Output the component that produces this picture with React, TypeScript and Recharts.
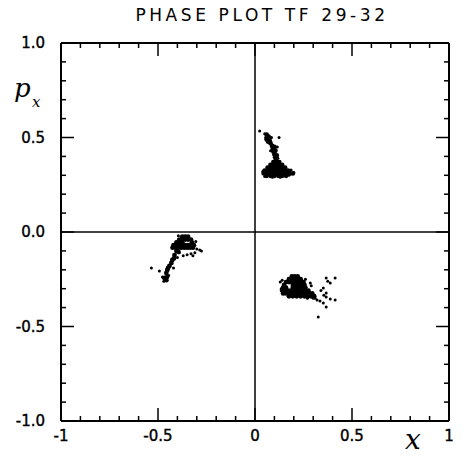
import React from "react";
import { ScatterChart, Scatter, XAxis, YAxis, ReferenceLine } from "recharts";

const title = "PHASE PLOT TF 29-32";
const xTicks = [-1, -0.9, -0.8, -0.7, -0.6, -0.5, -0.4, -0.3, -0.2, -0.1, 0, 0.1, 0.2, 0.3, 0.4, 0.5, 0.6, 0.7, 0.8, 0.9, 1];
const yTicks = [-1, -0.9, -0.8, -0.7, -0.6, -0.5, -0.4, -0.3, -0.2, -0.1, 0, 0.1, 0.2, 0.3, 0.4, 0.5, 0.6, 0.7, 0.8, 0.9, 1];
const xLabels: Record<string, string> = { "-1": "-1", "-0.5": "-0.5", "0": "0", "0.5": "0.5", "1": "1" };
const yLabels: Record<string, string> = { "-1": "-1.0", "-0.5": "-0.5", "0": "0.0", "0.5": "0.5", "1": "1.0" };

// Cluster A (upper, near x=0.1, y=0.33)
const aCore = [
  { x: 0.095, y: 0.37 }, { x: 0.11, y: 0.37 }, { x: 0.125, y: 0.37 },
  { x: 0.08, y: 0.355 }, { x: 0.095, y: 0.355 }, { x: 0.11, y: 0.355 }, { x: 0.125, y: 0.355 }, { x: 0.14, y: 0.355 },
  { x: 0.065, y: 0.34 }, { x: 0.08, y: 0.34 }, { x: 0.095, y: 0.34 }, { x: 0.11, y: 0.34 }, { x: 0.125, y: 0.34 }, { x: 0.14, y: 0.34 }, { x: 0.155, y: 0.34 },
  { x: 0.05, y: 0.325 }, { x: 0.065, y: 0.325 }, { x: 0.08, y: 0.325 }, { x: 0.095, y: 0.325 }, { x: 0.11, y: 0.325 }, { x: 0.125, y: 0.325 }, { x: 0.14, y: 0.325 }, { x: 0.155, y: 0.325 }, { x: 0.17, y: 0.325 },
  { x: 0.045, y: 0.31 }, { x: 0.06, y: 0.31 }, { x: 0.075, y: 0.31 }, { x: 0.09, y: 0.31 }, { x: 0.105, y: 0.31 }, { x: 0.12, y: 0.31 }, { x: 0.135, y: 0.31 }, { x: 0.15, y: 0.31 }, { x: 0.165, y: 0.31 }, { x: 0.18, y: 0.31 }, { x: 0.195, y: 0.31 },
  { x: 0.06, y: 0.297 }, { x: 0.08, y: 0.297 }, { x: 0.1, y: 0.297 }, { x: 0.12, y: 0.297 }, { x: 0.14, y: 0.297 }, { x: 0.16, y: 0.297 },
  { x: 0.06, y: 0.515 }, { x: 0.07, y: 0.505 }, { x: 0.06, y: 0.49 }, { x: 0.075, y: 0.485 }, { x: 0.08, y: 0.47 }, { x: 0.068, y: 0.478 },
  { x: 0.088, y: 0.455 }, { x: 0.092, y: 0.44 }, { x: 0.095, y: 0.425 }, { x: 0.1, y: 0.41 }, { x: 0.104, y: 0.395 }, { x: 0.108, y: 0.382 },
  { x: 0.1, y: 0.45 }, { x: 0.105, y: 0.43 }, { x: 0.112, y: 0.405 },
];
const aDots = [
  { x: 0.024, y: 0.534 }, { x: 0.124, y: 0.5 }, { x: 0.186, y: 0.328 }, { x: 0.05, y: 0.52 }, { x: 0.055, y: 0.5 },
  { x: 0.085, y: 0.5 }, { x: 0.04, y: 0.32 }, { x: 0.2, y: 0.315 }, { x: 0.175, y: 0.3 }, { x: 0.05, y: 0.293 },
  { x: 0.13, y: 0.29 }, { x: 0.09, y: 0.29 }, { x: 0.115, y: 0.45 }, { x: 0.08, y: 0.43 }, { x: 0.118, y: 0.39 },
];

// Cluster B (left, near x=-0.38, y=-0.07)
const bCore = [
  { x: -0.375, y: -0.025 }, { x: -0.36, y: -0.025 }, { x: -0.345, y: -0.025 },
  { x: -0.39, y: -0.04 }, { x: -0.375, y: -0.04 }, { x: -0.36, y: -0.04 }, { x: -0.345, y: -0.04 }, { x: -0.33, y: -0.04 },
  { x: -0.405, y: -0.055 }, { x: -0.39, y: -0.055 }, { x: -0.375, y: -0.055 }, { x: -0.325, y: -0.055 },
  { x: -0.42, y: -0.07 }, { x: -0.405, y: -0.07 }, { x: -0.39, y: -0.07 }, { x: -0.375, y: -0.07 }, { x: -0.36, y: -0.07 }, { x: -0.345, y: -0.07 }, { x: -0.33, y: -0.07 }, { x: -0.315, y: -0.07 },
  { x: -0.425, y: -0.083 }, { x: -0.41, y: -0.083 }, { x: -0.395, y: -0.083 }, { x: -0.38, y: -0.083 }, { x: -0.365, y: -0.083 }, { x: -0.35, y: -0.083 }, { x: -0.335, y: -0.083 }, { x: -0.32, y: -0.083 },
  { x: -0.405, y: -0.101 }, { x: -0.415, y: -0.122 }, { x: -0.426, y: -0.148 }, { x: -0.431, y: -0.164 },
  { x: -0.441, y: -0.18 }, { x: -0.452, y: -0.201 }, { x: -0.457, y: -0.217 }, { x: -0.467, y: -0.243 }, { x: -0.457, y: -0.255 },
  { x: -0.395, y: -0.105 }, { x: -0.418, y: -0.14 }, { x: -0.448, y: -0.19 }, { x: -0.455, y: -0.24 },
];
const bDots = [
  { x: -0.3, y: -0.09 }, { x: -0.285, y: -0.095 }, { x: -0.276, y: -0.1 }, { x: -0.31, y: -0.11 },
  { x: -0.33, y: -0.115 }, { x: -0.35, y: -0.12 }, { x: -0.37, y: -0.125 }, { x: -0.32, y: -0.125 },
  { x: -0.39, y: -0.11 }, { x: -0.4, y: -0.135 }, { x: -0.42, y: -0.19 }, { x: -0.477, y: -0.238 },
  { x: -0.493, y: -0.206 }, { x: -0.534, y: -0.19 }, { x: -0.445, y: -0.23 }, { x: -0.47, y: -0.26 },
  { x: -0.395, y: -0.02 }, { x: -0.305, y: -0.05 },
];

// Cluster C (lower right, near x=0.22, y=-0.3)
const cCore = [
  { x: 0.19, y: -0.235 }, { x: 0.205, y: -0.235 }, { x: 0.22, y: -0.235 },
  { x: 0.175, y: -0.25 }, { x: 0.19, y: -0.25 }, { x: 0.205, y: -0.25 }, { x: 0.22, y: -0.25 }, { x: 0.235, y: -0.25 },
  { x: 0.16, y: -0.265 }, { x: 0.175, y: -0.265 }, { x: 0.19, y: -0.265 }, { x: 0.205, y: -0.265 }, { x: 0.22, y: -0.265 }, { x: 0.235, y: -0.265 }, { x: 0.25, y: -0.265 },
  { x: 0.15, y: -0.28 }, { x: 0.195, y: -0.28 }, { x: 0.21, y: -0.28 }, { x: 0.225, y: -0.28 }, { x: 0.24, y: -0.28 }, { x: 0.255, y: -0.28 },
  { x: 0.145, y: -0.295 }, { x: 0.16, y: -0.295 }, { x: 0.195, y: -0.295 }, { x: 0.21, y: -0.295 }, { x: 0.225, y: -0.295 }, { x: 0.24, y: -0.295 }, { x: 0.26, y: -0.295 },
  { x: 0.14, y: -0.31 }, { x: 0.155, y: -0.31 }, { x: 0.17, y: -0.31 }, { x: 0.185, y: -0.31 }, { x: 0.2, y: -0.31 }, { x: 0.215, y: -0.31 }, { x: 0.23, y: -0.31 }, { x: 0.245, y: -0.31 }, { x: 0.26, y: -0.31 }, { x: 0.275, y: -0.31 },
  { x: 0.145, y: -0.325 }, { x: 0.16, y: -0.325 }, { x: 0.175, y: -0.325 }, { x: 0.19, y: -0.325 }, { x: 0.205, y: -0.325 }, { x: 0.22, y: -0.325 }, { x: 0.235, y: -0.325 }, { x: 0.25, y: -0.325 }, { x: 0.265, y: -0.325 }, { x: 0.28, y: -0.325 }, { x: 0.295, y: -0.325 },
  { x: 0.175, y: -0.34 }, { x: 0.195, y: -0.34 }, { x: 0.215, y: -0.34 }, { x: 0.235, y: -0.34 }, { x: 0.255, y: -0.34 }, { x: 0.275, y: -0.34 }, { x: 0.29, y: -0.34 }, { x: 0.305, y: -0.34 },
];
const cDots = [
  { x: 0.135, y: -0.3 }, { x: 0.13, y: -0.265 }, { x: 0.14, y: -0.255 }, { x: 0.285, y: -0.27 }, { x: 0.29, y: -0.285 },
  { x: 0.352, y: -0.296 }, { x: 0.367, y: -0.243 }, { x: 0.413, y: -0.243 }, { x: 0.388, y: -0.27 }, { x: 0.367, y: -0.323 },
  { x: 0.367, y: -0.344 }, { x: 0.388, y: -0.354 }, { x: 0.413, y: -0.36 }, { x: 0.352, y: -0.376 }, { x: 0.367, y: -0.397 },
  { x: 0.326, y: -0.45 }, { x: 0.31, y: -0.35 }, { x: 0.32, y: -0.36 }, { x: 0.335, y: -0.365 }, { x: 0.3, y: -0.35 },
  { x: 0.27, y: -0.35 }, { x: 0.26, y: -0.25 }, { x: 0.375, y: -0.26 }, { x: 0.34, y: -0.31 }, { x: 0.355, y: -0.335 },
];

const FONT = "'DejaVu Sans', sans-serif";
const isMajor = (v: number) => Math.abs(v * 2 - Math.round(v * 2)) < 1e-6;
const key = (v: number) => String(Math.round(v * 10) / 10);
const tickLen = (v: number) => (isMajor(v) && Math.abs(v) !== 1 ? 13 : 5);

const BottomTick = (p: any) => {
  const v = p.payload.value;
  const lab = xLabels[key(v)];
  return (
    <g>
      <line x1={p.x} y1={p.y} x2={p.x} y2={p.y - tickLen(v)} stroke="#000" strokeWidth={1.5} />
      {lab !== undefined && (
        <text x={p.x} y={p.y + 20} textAnchor="middle" fontFamily={FONT} fontSize={15} stroke="#000" strokeWidth={0.4} fill="#000">{lab}</text>
      )}
    </g>
  );
};
const TopTick = (p: any) => {
  const v = p.payload.value;
  return <line x1={p.x} y1={p.y} x2={p.x} y2={p.y + tickLen(v)} stroke="#000" strokeWidth={1.5} />;
};
const LeftTick = (p: any) => {
  const v = p.payload.value;
  const lab = yLabels[key(v)];
  return (
    <g>
      <line x1={p.x} y1={p.y} x2={p.x + tickLen(v)} y2={p.y} stroke="#000" strokeWidth={1.5} />
      {lab !== undefined && (
        <text x={p.x - 16} y={p.y + 5} textAnchor="end" fontFamily={FONT} fontSize={15} stroke="#000" strokeWidth={0.4} fill="#000">{lab}</text>
      )}
    </g>
  );
};
const RightTick = (p: any) => {
  const v = p.payload.value;
  return <line x1={p.x} y1={p.y} x2={p.x - tickLen(v)} y2={p.y} stroke="#000" strokeWidth={1.5} />;
};

const bigDot = (p: any) => <circle cx={p.cx} cy={p.cy} r={2.4} fill="#000" />;
const smallDot = (p: any) => <circle cx={p.cx} cy={p.cy} r={1.5} fill="#000" />;

export default function App() {
  return (
    <div style={{ position: "absolute", left: 0, top: 0, background: "#fff" }}>
      <ScatterChart width={464} height={457} margin={{ top: 42, right: 14, bottom: 35, left: 60 }}>
        <XAxis xAxisId="b" orientation="bottom" type="number" dataKey="x" domain={[-1, 1]} ticks={xTicks} interval={0}
          height={1} tickSize={0} tickMargin={0} tickLine={false} tick={BottomTick} axisLine={{ stroke: "#000", strokeWidth: 2 }} allowDataOverflow />
        <XAxis xAxisId="t" orientation="top" type="number" dataKey="x" domain={[-1, 1]} ticks={xTicks} interval={0}
          height={1} tickSize={0} tickMargin={0} tickLine={false} tick={TopTick} axisLine={{ stroke: "#000", strokeWidth: 2 }} allowDataOverflow />
        <YAxis yAxisId="l" orientation="left" type="number" dataKey="y" domain={[-1, 1]} ticks={yTicks} interval={0}
          width={1} tickSize={0} tickMargin={0} tickLine={false} tick={LeftTick} axisLine={{ stroke: "#000", strokeWidth: 2 }} allowDataOverflow />
        <YAxis yAxisId="r" orientation="right" type="number" dataKey="y" domain={[-1, 1]} ticks={yTicks} interval={0}
          width={1} tickSize={0} tickMargin={0} tickLine={false} tick={RightTick} axisLine={{ stroke: "#000", strokeWidth: 2 }} allowDataOverflow />
        <ReferenceLine xAxisId="b" yAxisId="l" x={0} stroke="#000" strokeWidth={1.5} />
        <ReferenceLine xAxisId="b" yAxisId="l" y={0} stroke="#000" strokeWidth={1.5} />
        <Scatter xAxisId="b" yAxisId="l" data={aCore} shape={bigDot} isAnimationActive={false} />
        <Scatter xAxisId="b" yAxisId="l" data={aDots} shape={smallDot} isAnimationActive={false} />
        <Scatter xAxisId="b" yAxisId="l" data={bCore} shape={bigDot} isAnimationActive={false} />
        <Scatter xAxisId="b" yAxisId="l" data={bDots} shape={smallDot} isAnimationActive={false} />
        <Scatter xAxisId="b" yAxisId="l" data={cCore} shape={bigDot} isAnimationActive={false} />
        <Scatter xAxisId="b" yAxisId="l" data={cDots} shape={smallDot} isAnimationActive={false} />
        <text x={262} y={21} textAnchor="middle" fontFamily={FONT} fontSize={17} letterSpacing={3.6} fill="#000">{title}</text>
        <text x={14} y={97} fontFamily="'DejaVu Serif', serif" fontStyle="italic" fontSize={26} fill="#000">p</text>
        <text x={32} y={107} fontFamily="'DejaVu Serif', serif" fontStyle="italic" fontSize={15} fill="#000">x</text>
        <text x={413} y={449} textAnchor="middle" fontFamily="'DejaVu Serif', serif" fontStyle="italic" fontSize={28} fill="#000">x</text>
      </ScatterChart>
    </div>
  );
}
